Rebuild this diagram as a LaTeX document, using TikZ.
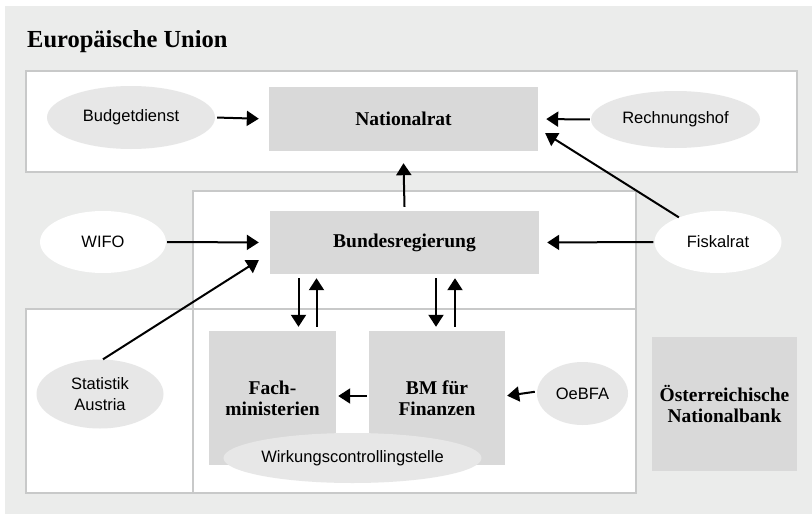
\documentclass[tikz,border=0pt]{standalone}
\usepackage{fontspec}
\setmainfont{Liberation Serif}
\newfontfamily\condsf{Liberation Sans}
\usepackage{tikz}
\usetikzlibrary{arrows.meta, positioning, shapes.geometric, calc}

\definecolor{bggray}{HTML}{EBECEB}
\definecolor{framegray}{HTML}{C8C9C9}
\definecolor{boxgray}{HTML}{D9D9D9}
\definecolor{ovalgray}{HTML}{E7E7E7}

\begin{document}
\begin{tikzpicture}[x=1pt, y=-1pt,
	organ/.style={shape=rectangle, fill=boxgray, inner sep=0pt, align=center,
		font=\fontsize{19.5}{21}\selectfont\bfseries},
	advisor/.style={shape=ellipse, fill=ovalgray, inner sep=0pt, align=center,
		font=\fontsize{16.5}{21.5}\selectfont\condsf},
	outside/.style={advisor, fill=white},
	frame/.style={draw=framegray, line width=1.6pt},
	flow/.style={line width=2pt, -{Triangle[length=12pt, width=15pt]}}]
	% Background and frames:
	\useasboundingbox (0, 0) rectangle (812, 514);
	\fill[bggray] (5, 6) rectangle (812, 514);
	\node[anchor=base west, inner sep=0pt, font=\fontsize{24.5}{26}\selectfont\bfseries](eu) at (27, 47){Europäische Union};
	\fill[white] (26, 71) rectangle (797, 172);
	\fill[white] (193, 191) rectangle (636, 493);
	\fill[white] (26, 309) rectangle (636, 493);
	\draw[frame] (26, 71) rectangle (797, 172);
	\draw[frame] (193, 191) rectangle (636, 493);
	\draw[frame] (26, 309) rectangle (636, 493);
	% Boxes:
	\node[organ, minimum width=269pt, minimum height=64pt](nat) at (403.5, 119){Nationalrat};
	\node[organ, minimum width=269pt, minimum height=63pt](bund) at (404.5, 242.5){Bundesregierung};
	\node[organ, minimum width=127pt, minimum height=134pt](fach) at (272.5, 398){Fach-\\ministerien};
	\node[organ, minimum width=136pt, minimum height=134pt](bmf) at (437, 398){BM für\\Finanzen};
	\node[organ, minimum width=145pt, minimum height=134pt](oenb) at (724.5, 404){Österreichische\\Nationalbank};
	% Ellipses:
	\node[advisor, minimum width=168pt, minimum height=63pt](budget) at (131, 117.5){Budgetdienst};
	\node[advisor, minimum width=169pt, minimum height=57pt](rh) at (675.5, 119.5){Rechnungshof};
	\node[outside, minimum width=126pt, minimum height=62pt](wifo) at (103, 242){WIFO};
	\node[outside, minimum width=127pt, minimum height=62pt](fisk) at (718, 242){Fiskalrat};
	\node[advisor, minimum width=127pt, minimum height=69pt](stat) at (100, 394){Statistik\\Austria};
	\node[advisor, minimum width=243pt, minimum height=50pt](wirk) at (352.5, 458){Wirkungscontrollingstelle};
	\node[advisor, minimum width=91pt, minimum height=63pt](oebfa) at (582.5, 393.5){OeBFA};
	% Arrows:
	\draw[flow, shorten <=2pt, shorten >=10pt] (budget.east) -- (nat.west);
	\draw[flow, shorten <=1pt, shorten >=8pt] (rh.west) -- (nat.east);
	\draw[flow, shorten <=1pt, shorten >=11pt] (wifo.east) -- (bund.west);
	\draw[flow, shorten <=1pt, shorten >=8pt] (fisk.west) -- (bund.east);
	\draw[flow] ([yshift=4pt]bund.north) -- ([yshift=-12pt]nat.south);
	\draw[flow] (fisk) -- ($(nat.south east)+(7, -18)$);
	\draw[flow] ($(stat.north)+(3, 0)$) -- ($(bund.south west)+(-11, -14)$);
	\draw[flow] ($(fach.north |- bund.south)+(26, 4)$) -- ($(fach.north)+(26, -4)$);
	\draw[flow] ($(fach.north)+(44, -4)$) -- ($(fach.north |- bund.south)+(44, 4)$);
	\draw[flow] ($(bmf.north |- bund.south)+(-1, 4)$) -- ($(bmf.north)+(-1, -4)$);
	\draw[flow] ($(bmf.north)+(18, -4)$) -- ($(bmf.north |- bund.south)+(18, 4)$);
	\draw[flow, shorten <=2pt, shorten >=2pt] ([yshift=2pt]bmf.west) -- ([yshift=2pt]fach.east);
	\draw[flow, shorten <=2pt, shorten >=2pt] ([yshift=2pt]oebfa.west) -- ([yshift=2pt]bmf.east);
\end{tikzpicture}
\end{document}
